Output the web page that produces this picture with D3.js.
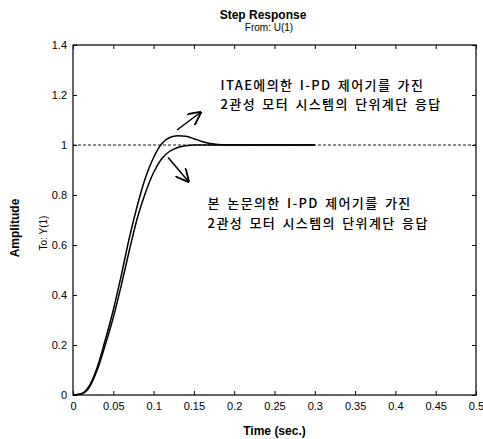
<!DOCTYPE html>
<html>
<head>
<meta charset="utf-8">
<script src="https://cdn.jsdelivr.net/npm/d3@7"></script>
<style>
  body { margin: 0; background: #fff; }
  text { fill: #000; }
  .tick-label { font-family: "Liberation Sans", Arial, sans-serif; font-size: 11px; }
  .note { font-family: "Noto Sans CJK KR", sans-serif; font-size: 13px; font-weight: 500; letter-spacing: 1.4px; word-spacing: 2px; }
</style>
</head>
<body>
<div id="chart"></div>
<script>
// time samples (sec.)
var time = [0, 0.01, 0.02, 0.03, 0.04, 0.05, 0.06, 0.07, 0.08, 0.09, 0.1, 0.11, 0.12, 0.13, 0.14, 0.15, 0.16, 0.17, 0.18, 0.2, 0.22, 0.25, 0.3];
// ITAE I-PD response (overshoot)
var itae = [0, 0.005, 0.035, 0.11, 0.22, 0.34, 0.48, 0.63, 0.76, 0.87, 0.95, 1.005, 1.03, 1.037, 1.035, 1.025, 1.014, 1.006, 1.002, 1.0, 1.0, 1.0, 1.0];
// proposed I-PD response
var proposed = [0, 0.004, 0.03, 0.1, 0.2, 0.31, 0.44, 0.58, 0.71, 0.81, 0.89, 0.945, 0.975, 0.99, 0.997, 1.0, 1.0, 1.0, 1.0, 1.0, 1.0, 1.0, 1.0];
var xTicks = [0, 0.05, 0.1, 0.15, 0.2, 0.25, 0.3, 0.35, 0.4, 0.45, 0.5];
var yTicks = [0, 0.2, 0.4, 0.6, 0.8, 1, 1.2, 1.4];
var noteTop = ["ITAE에의한 I-PD 제어기를 가진", "2관성 모터 시스템의 단위계단 응답"];
var noteBottom = ["본 논문의한 I-PD 제어기를 가진", "2관성 모터 시스템의 단위계단 응답"];

var width = 483, height = 439;
var margin = {left: 73, top: 45, right: 7, bottom: 44};
var w = width - margin.left - margin.right;
var h = height - margin.top - margin.bottom;

var svg = d3.select('#chart').append('svg')
  .attr('width', width).attr('height', height);

var x = d3.scaleLinear().domain([0, 0.5]).range([0, w]);
var y = d3.scaleLinear().domain([0, 1.4]).range([h, 0]);

var g = svg.append('g')
  .attr('transform', "translate(" + margin.left + "," + margin.top + ")");

var fmt = function(d){ return d3.format("")(+d.toFixed(2)); };

// axes with inward ticks
g.append('g').attr('transform', "translate(0," + h + ")")
  .call(d3.axisBottom(x).tickValues(xTicks).tickSize(-4).tickPadding(7).tickFormat(fmt))
  .call(function(a){ a.select('.domain').remove(); a.selectAll('text').attr('class', 'tick-label'); });
g.append('g')
  .call(d3.axisLeft(y).tickValues(yTicks).tickSize(-4).tickPadding(6).tickFormat(fmt))
  .call(function(a){ a.select('.domain').remove(); a.selectAll('text').attr('class', 'tick-label'); });
g.append('g')
  .call(d3.axisTop(x).tickValues(xTicks).tickSize(-4).tickFormat(''))
  .call(function(a){ a.select('.domain').remove(); });
g.append('g').attr('transform', "translate(" + w + ",0)")
  .call(d3.axisRight(y).tickValues(yTicks).tickSize(-4).tickFormat(''))
  .call(function(a){ a.select('.domain').remove(); });
g.selectAll('.tick line').attr('stroke', '#000');
g.selectAll('.tick text').attr('font-family', null).attr('font-size', null);

g.append('rect').attr('width', w).attr('height', h)
  .attr('fill', 'none').attr('stroke', '#000').attr('stroke-width', 1.2);

// steady state reference
g.append('line')
  .attr('x1', 0).attr('x2', w).attr('y1', y(1)).attr('y2', y(1))
  .attr('stroke', '#000').attr('stroke-width', 0.9).attr('stroke-dasharray', '3,2');

var line = d3.line()
  .x(function(d){ return x(d[0]); })
  .y(function(d){ return y(d[1]); })
  .curve(d3.curveMonotoneX);

[itae, proposed].forEach(function(s){
  g.append('path')
    .datum(time.map(function(t, i){ return [t, s[i]]; }))
    .attr('d', line)
    .attr('fill', 'none').attr('stroke', '#000').attr('stroke-width', 1.5);
});

// arrows
var defs = svg.append('defs');
defs.append('marker').attr('id', 'arr')
  .attr('viewBox', '0 0 10 10').attr('refX', 9).attr('refY', 5)
  .attr('markerWidth', 9).attr('markerHeight', 9).attr('orient', 'auto')
  .append('path').attr('d', 'M0,0 L10,5 L0,10').attr('fill', 'none')
  .attr('stroke', '#000').attr('stroke-width', 1.4);

g.append('line')
  .attr('x1', x(0.129)).attr('y1', y(1.06))
  .attr('x2', x(0.158)).attr('y2', y(1.13))
  .attr('stroke', '#000').attr('stroke-width', 1.5).attr('marker-end', 'url(#arr)');
g.append('line')
  .attr('x1', x(0.118)).attr('y1', y(0.95))
  .attr('x2', x(0.143)).attr('y2', y(0.855))
  .attr('stroke', '#000').attr('stroke-width', 1.5).attr('marker-end', 'url(#arr)');

// annotations
noteTop.forEach(function(s, i){
  g.append('text').attr('class', 'note')
    .attr('x', x(0.183)).attr('y', y(1.22) + i * 19)
    .text(s);
});
noteBottom.forEach(function(s, i){
  g.append('text').attr('class', 'note')
    .attr('x', x(0.167)).attr('y', y(0.75) + i * 20)
    .text(s);
});

// titles
svg.append('text').attr('x', 263).attr('y', 19)
  .attr('text-anchor', 'middle')
  .attr('font-family', 'Liberation Sans, Arial, sans-serif')
  .attr('font-size', 12).attr('font-weight', 'bold')
  .text('Step Response');
svg.append('text').attr('x', 269).attr('y', 31)
  .attr('text-anchor', 'middle')
  .attr('font-family', 'Liberation Sans, Arial, sans-serif')
  .attr('font-size', 10)
  .text('From: U(1)');
svg.append('text').attr('x', margin.left + w / 2).attr('y', 435)
  .attr('text-anchor', 'middle')
  .attr('font-family', 'Liberation Sans, Arial, sans-serif')
  .attr('font-size', 12).attr('font-weight', 'bold')
  .text('Time (sec.)');
svg.append('text')
  .attr('transform', 'translate(19,228) rotate(-90)')
  .attr('text-anchor', 'middle')
  .attr('font-family', 'Liberation Sans, Arial, sans-serif')
  .attr('font-size', 12).attr('font-weight', 'bold')
  .text('Amplitude');
svg.append('text')
  .attr('transform', 'translate(47,233) rotate(-90)')
  .attr('text-anchor', 'middle')
  .attr('font-family', 'Liberation Sans, Arial, sans-serif')
  .attr('font-size', 10)
  .text('To: Y(1)');
</script>
</body>
</html>
